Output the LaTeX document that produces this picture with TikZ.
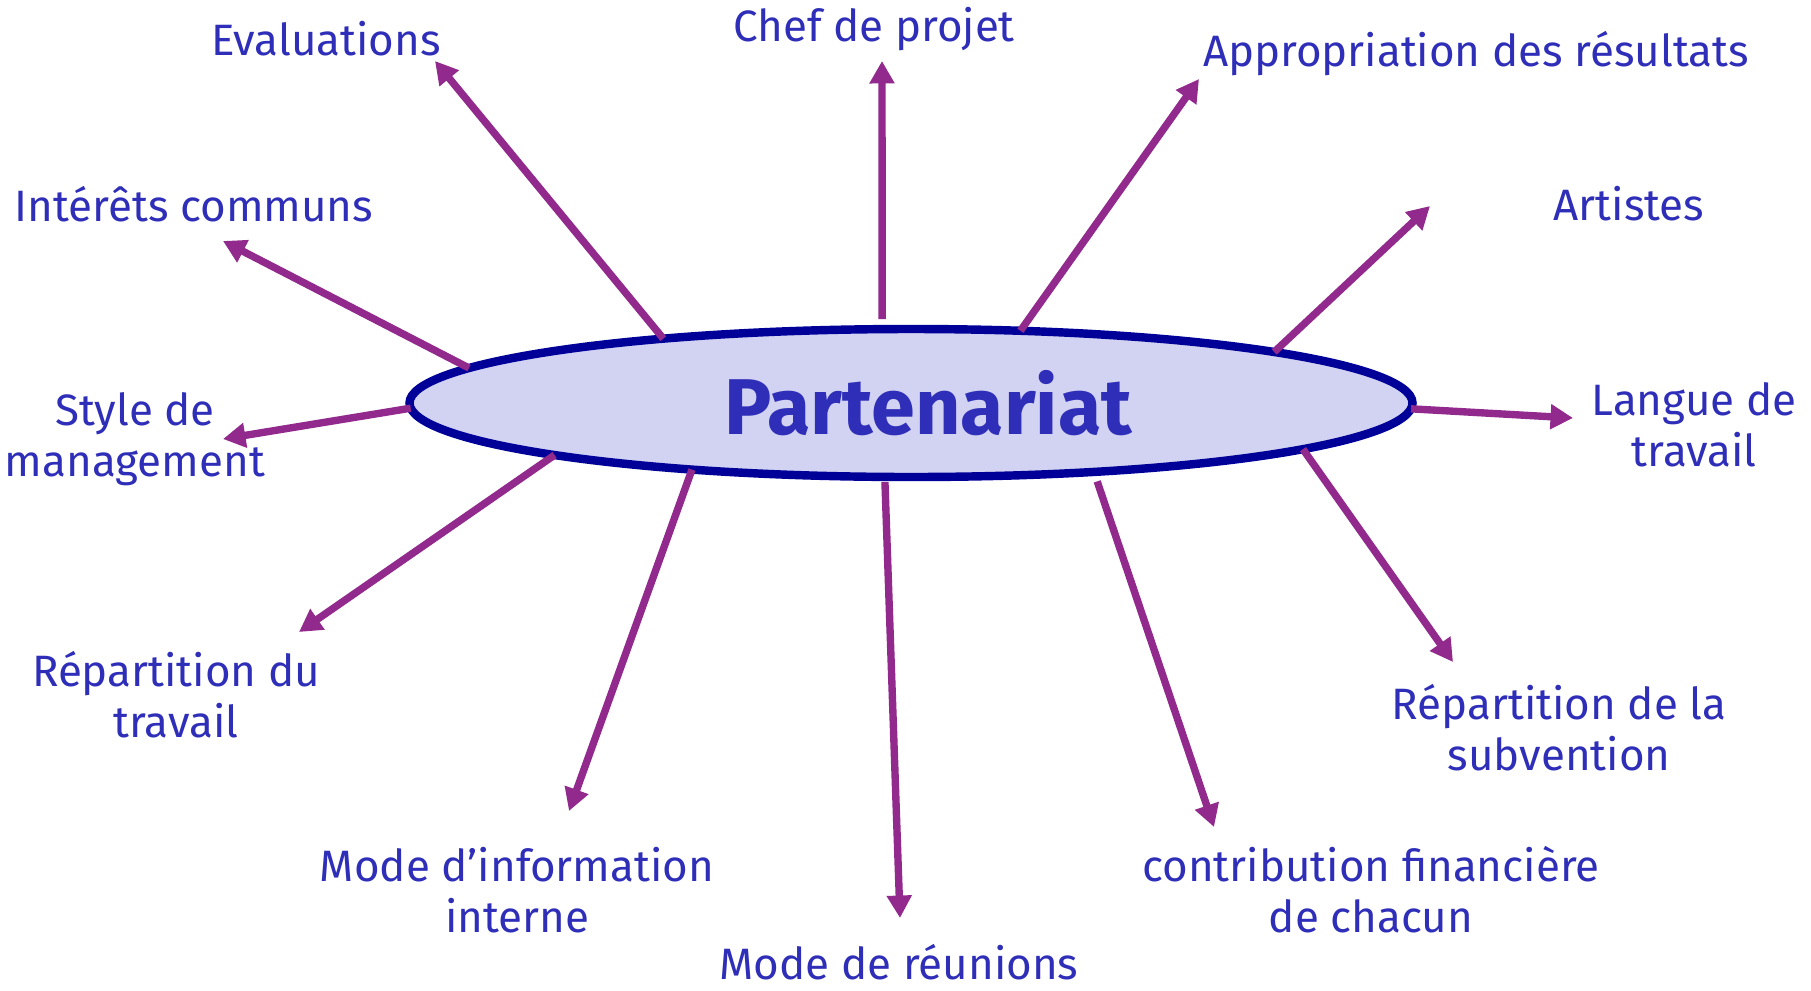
\documentclass[tikz,border=0pt]{standalone}
\usepackage{fontspec}
\setmainfont{Fira Sans}
\usetikzlibrary{arrows.meta,shapes.geometric,calc}
\definecolor{topictext}{RGB}{46,46,184}
\definecolor{spokecol}{RGB}{145,42,140}
\definecolor{hubfill}{RGB}{210,210,242}
\definecolor{hubdraw}{RGB}{0,0,153}
\tikzset{
  hubnode/.style={
    ellipse, draw=hubdraw, fill=hubfill, line width=2.4pt,
    minimum width=10.03cm, minimum height=1.48cm, inner sep=0pt,
    font=\fontsize{22.5}{26}\selectfont\bfseries, text=topictext
  },
  topicnode/.style={
    align=center, inner sep=1pt, text=topictext,
    font=\fontsize{12.5}{14.5}\selectfont
  },
  spokearrow/.style={
    -{Triangle[length=6.4pt,width=6.8pt]}, line width=2.1pt, spokecol
  },
}
\begin{document}
\begin{tikzpicture}

  \useasboundingbox (0,0) rectangle (18.11,-9.90);

  % ── Hub ──
  \node[hubnode] (part) at (9.11,-4.03) {\hspace{0.34cm}Partenariat};

  % ── Topics ──
  \node[topicnode] (eval)   at (3.26,-0.39)  {Evaluations};
  \node[topicnode] (chef)   at (8.74,-0.29)  {Chef de projet};
  \node[topicnode] (approp) at (14.76,-0.54) {Appropriation des résultats};
  \node[topicnode] (artist) at (16.29,-2.04) {Artistes};
  \node[topicnode] (langue) at (16.94,-4.25) {Langue de\\travail};
  \node[topicnode] (subv)   at (15.59,-7.28) {Répartition de la\\subvention};
  \node[topicnode] (contrib) at (13.71,-8.90) {contribution financière\\de chacun};
  \node[topicnode] (reun)   at (8.99,-9.62)  {Mode de réunions};
  \node[topicnode] (info)   at (5.17,-8.90)  {Mode d’information\\interne};
  \node[topicnode] (trav)   at (1.76,-6.95)  {Répartition du\\travail};
  \node[topicnode] (style)  at (1.35,-4.39)  {Style de\\management};
  \node[topicnode] (inter)  at (1.94,-2.04)  {Intérêts communs};

  % ── Arrow tips ──
  \coordinate (evaltip)    at (4.35,-0.61);
  \coordinate (cheftip)    at (8.82,-0.61);
  \coordinate (approptip)  at (11.99,-0.79);
  \coordinate (artisttip)  at (14.30,-2.06);
  \coordinate (languetip)  at (15.73,-4.18);
  \coordinate (subvtip)    at (14.53,-6.62);
  \coordinate (contribtip) at (12.14,-8.27);
  \coordinate (reuntip)    at (9.00,-9.18);
  \coordinate (infotip)    at (5.69,-8.11);
  \coordinate (travtip)    at (2.99,-6.32);
  \coordinate (styletip)   at (2.23,-4.39);
  \coordinate (intertip)   at (2.23,-2.41);

  % ── Spokes (start on the hub outline, parameter angle) ──
  \foreach \t/\tip/\gap in {119.6/evaltip/0, 93.3/cheftip/0.1, 77.4/approptip/0,
      43.6/artisttip/0, -4.5/languetip/0, -38.6/subvtip/0, -68.6/contribtip/0.1,
      -93/reuntip/0.05, -115.9/infotip/0, -135.3/travtip/0, 184/styletip/0,
      151.8/intertip/0}
    \draw[spokearrow, shorten <=\gap cm]
      ($(part.center)+({5.015*cos(\t)},{0.74*sin(\t)})$) -- (\tip);

\end{tikzpicture}
\end{document}
